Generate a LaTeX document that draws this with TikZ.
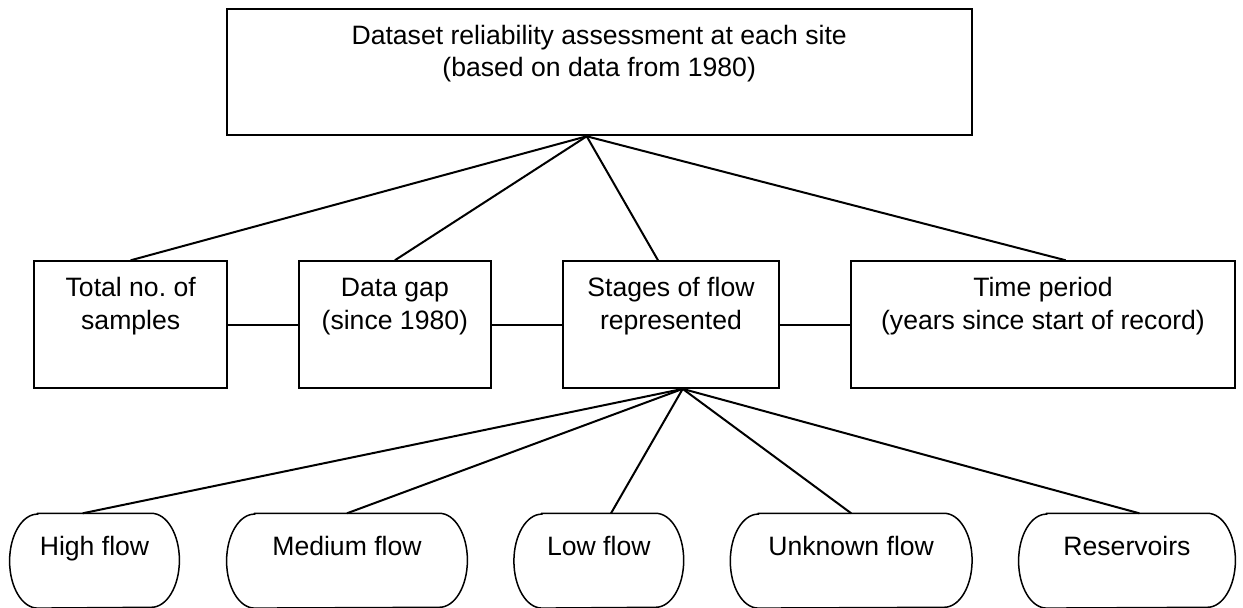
\documentclass[tikz,border=0pt]{standalone}
\usepackage{fontspec}
\setmainfont{Liberation Sans}
\frenchspacing

\begin{document}
\begin{tikzpicture}[x=0.5pt,y=-0.5pt,font=\fontsize{13.3}{16.2}\selectfont,
    box/.style={rectangle,draw,line width=1pt,inner sep=0pt,align=center,anchor=north,
      text height=34pt,text depth=29.3pt},
    flow/.style={rectangle,inner sep=0pt,anchor=north,minimum height=47pt,
      text height=20.85pt,text depth=26.15pt},
    link/.style={line width=1pt}]
	 \useasboundingbox (0,0) rectangle (1243,608);

	 \node at (599.2,7.7) [box,minimum width=372.5pt] (site) {Dataset reliability assessment at each site\\(based on data from 1980)};

	 \node at (130.7,260.3) [box,minimum width=96.35pt] (total) {Total no.\ of\\samples};
	 \node at (394.85,260.3) [box,minimum width=96.15pt] (gap) {Data gap\\(since 1980)};
	 \node at (671,260.3) [box,minimum width=108.3pt] (stages) {Stages of flow\\represented};
	 \node at (1043,260.3) [box,minimum width=192.3pt] (period) {Time period\\(years since start of record)};

	 \node at (94.5,513.3) [flow,minimum width=84.5pt] (high) {High flow};
	 \node at (347,513.3) [flow,minimum width=120pt] (medium) {Medium flow};
	 \node at (598.8,513.3) [flow,minimum width=84.5pt] (low) {Low flow};
	 \node at (851.2,513.3) [flow,minimum width=120.5pt] (unknown) {Unknown flow};
	 \node at (1127,513.3) [flow,minimum width=108pt] (reservoirs) {Reservoirs};

	 \foreach \n in {high,medium,low,unknown,reservoirs}
	   \draw[line width=0.75pt] ([xshift=14pt]\n.north west) -- ([xshift=-14pt]\n.north east)
	     arc[start angle=90,end angle=-90,x radius=14pt,y radius=23.5pt]
	     -- ([xshift=14pt]\n.south west)
	     arc[start angle=270,end angle=90,x radius=14pt,y radius=23.5pt] -- cycle;

	 \draw[link] ([xshift=-6.25pt]site.south) -- (total.north);
	 \draw[link] ([xshift=-6.25pt]site.south) -- (gap.north);
	 \draw[link] ([xshift=-6.25pt]site.south) -- ([xshift=-6.5pt]stages.north);
	 \draw[link] ([xshift=-6.25pt]site.south) -- ([xshift=11.35pt]period.north);

	 \draw[link] (total) -- (gap) -- (stages) -- (period);

	 \draw[link] ([xshift=5.85pt]stages.south) -- ([xshift=-5.9pt]high.north);
	 \draw[link] ([xshift=5.85pt]stages.south) -- (medium.north);
	 \draw[link] ([xshift=5.85pt]stages.south) -- ([xshift=6.1pt]low.north);
	 \draw[link] ([xshift=5.85pt]stages.south) -- (unknown.north);
	 \draw[link] ([xshift=5.85pt]stages.south) -- ([xshift=6.15pt]reservoirs.north);
\end{tikzpicture}
\end{document}
